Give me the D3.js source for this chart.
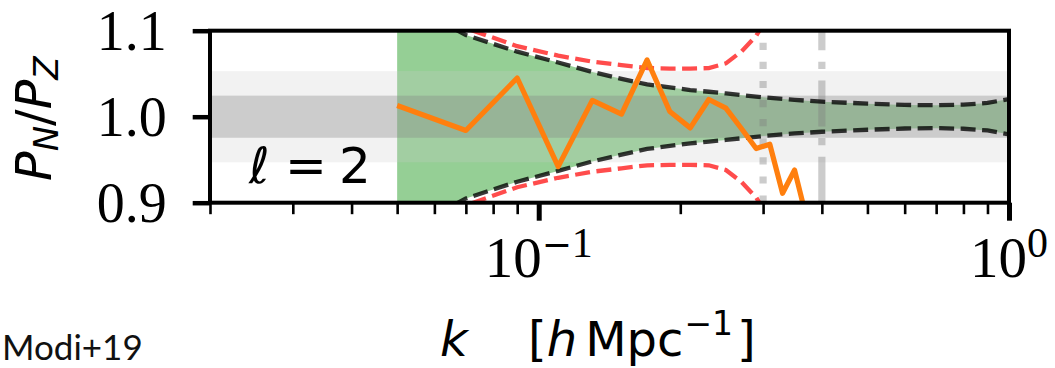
<!DOCTYPE html>
<html>
<head>
<meta charset="utf-8">
<script src="https://cdn.jsdelivr.net/npm/d3@7"></script>
<style>
  html, body { margin: 0; padding: 0; background: #fff; }
  svg { display: block; }
</style>
</head>
<body>
<svg id="chart" width="1055" height="368"></svg>
<script>
// ---------------- data ----------------
const kData = [0.05, 0.07, 0.09, 0.11, 0.13, 0.15, 0.17, 0.19, 0.21, 0.23, 0.25, 0.27, 0.29, 0.31, 0.33, 0.35, 0.37];
const ratio = [1.013, 0.984, 1.045, 0.942, 1.019, 1.003, 1.066, 1.006, 0.987, 1.020, 1.010, 0.986, 0.963, 0.968, 0.911, 0.938, 0.885];

const kModel = [0.05, 0.07, 0.09, 0.11, 0.13, 0.15, 0.17, 0.19, 0.21, 0.23, 0.25, 0.30, 0.35, 0.40, 0.50, 0.60, 0.70, 0.80, 0.90, 1.00];
const sigmaModel = [0.138, 0.095, 0.0756, 0.063, 0.052, 0.044, 0.0375, 0.034, 0.031, 0.029, 0.027, 0.0225, 0.0195, 0.0175, 0.0152, 0.0137, 0.0133, 0.014, 0.016, 0.0205];

const kRed = [0.05, 0.07, 0.09, 0.11, 0.13, 0.15, 0.17, 0.19, 0.21, 0.23, 0.25, 0.27, 0.29, 0.31, 0.33];
const sigmaRed = [0.15, 0.103, 0.082, 0.071, 0.064, 0.060, 0.0565, 0.056, 0.056, 0.0565, 0.062, 0.076, 0.094, 0.12, 0.15];

const bandOuter = [0.947, 1.053];
const bandInner = [0.9755, 1.0245];
const kCuts = [0.3, 0.4];

const yTicks = [0.9, 1.0, 1.1];
const yTickLabels = ["0.9", "1.0", "1.1"];
const xMajor = [0.1, 1];
const xMajorExp = ["\u22121", "0"];
const xMinor = [0.02, 0.03, 0.04, 0.05, 0.06, 0.07, 0.08, 0.09, 0.2, 0.3, 0.4, 0.5, 0.6, 0.7, 0.8, 0.9];

// ---------------- layout ----------------
const L = 210, R = 1009, T = 30.7, B = 202.7;
const svg = d3.select("#chart");
const x = d3.scaleLog().domain([0.02, 1]).range([L, R]);
const y = d3.scaleLinear().domain([0.9, 1.1]).range([B, T]);

svg.append("defs").append("clipPath").attr("id", "clip")
  .append("rect").attr("x", L).attr("y", T).attr("width", R - L).attr("height", B - T);

const plot = svg.append("g").attr("clip-path", "url(#clip)");

const model = kModel.map((k, i) => ({k, s: sigmaModel[i]}));
const red = kRed.map((k, i) => ({k, s: sigmaRed[i]}));
const pts = kData.map((k, i) => ({k, v: ratio[i]}));

// green fill
plot.append("path").datum(model)
  .attr("d", d3.area().x(d => x(d.k)).y0(d => y(1 - d.s)).y1(d => y(1 + d.s)))
  .attr("fill", "#2ca02c").attr("fill-opacity", 0.5);

// gray bands
plot.append("rect").attr("x", L).attr("width", R - L)
  .attr("y", y(bandOuter[1])).attr("height", y(bandOuter[0]) - y(bandOuter[1]))
  .attr("fill", "#cccccc").attr("fill-opacity", 0.25);
plot.append("rect").attr("x", L).attr("width", R - L)
  .attr("y", y(bandInner[1])).attr("height", y(bandInner[0]) - y(bandInner[1]))
  .attr("fill", "#808080").attr("fill-opacity", 0.333);

// vertical cut lines (drawn bottom -> top)
const vStyles = ["7.2,11.9", "46,11.5,7.2,11.5"];
kCuts.forEach((k, i) => {
  plot.append("path")
    .attr("d", `M${x(k)},${y(0.9)}L${x(k)},${y(1.1)}`)
    .attr("stroke", "#808080").attr("stroke-opacity", 0.4)
    .attr("stroke-width", 7.2).attr("stroke-dasharray", vStyles[i]).attr("fill", "none");
});

// black dashed model envelopes
[1, -1].forEach(sgn => {
  plot.append("path").datum(model)
    .attr("d", d3.line().x(d => x(d.k)).y(d => y(1 + sgn * d.s)))
    .attr("fill", "none").attr("stroke", "#000").attr("stroke-opacity", 0.78)
    .attr("stroke-width", 4.3).attr("stroke-dasharray", "15,6.5");
});
// red dashed envelopes
[1, -1].forEach(sgn => {
  plot.append("path").datum(red)
    .attr("d", d3.line().x(d => x(d.k)).y(d => y(1 + sgn * d.s)))
    .attr("fill", "none").attr("stroke", "#ff0000").attr("stroke-opacity", 0.7)
    .attr("stroke-width", 4.3).attr("stroke-dasharray", "15,6.5");
});

// orange ratio line
plot.append("path").datum(pts)
  .attr("d", d3.line().x(d => x(d.k)).y(d => y(d.v)))
  .attr("fill", "none").attr("stroke", "#ff7f0e").attr("stroke-width", 5.2)
  .attr("stroke-linejoin", "round");

// ---------------- axes ----------------
const gxMin = svg.append("g").attr("transform", `translate(0,${B})`)
  .call(d3.axisBottom(x).tickValues(xMinor).tickSize(11.5).tickFormat(""));
gxMin.select(".domain").remove();
gxMin.selectAll(".tick line").attr("stroke", "#000").attr("stroke-width", 2.6);

const gxMaj = svg.append("g").attr("transform", `translate(0,${B})`)
  .call(d3.axisBottom(x).tickValues(xMajor).tickSize(18).tickFormat(""));
gxMaj.select(".domain").remove();
gxMaj.selectAll(".tick line").attr("stroke", "#000").attr("stroke-width", 5);

const gy = svg.append("g").attr("transform", `translate(${L},0)`)
  .call(d3.axisLeft(y).tickValues(yTicks).tickSize(17.3).tickPadding(26)
    .tickFormat((d, i) => yTickLabels[i]));
gy.select(".domain").remove();
gy.selectAll(".tick line").attr("stroke", "#000").attr("stroke-width", 4.5);
gy.selectAll(".tick text")
  .attr("font-family", "'Liberation Serif', serif").attr("font-size", 56)
  .attr("fill", "#000").attr("dy", "0.34em");

// x major labels 10^n
xMajor.forEach((k, i) => {
  const t = svg.append("text").attr("x", x(k)).attr("y", 277)
    .attr("text-anchor", "middle").attr("font-family", "'Liberation Serif', serif")
    .attr("font-size", 57).attr("fill", "#000");
  t.append("tspan").text("10");
  const sup = t.append("tspan").attr("dy", -20).attr("font-size", 42);
  if (xMajorExp[i].startsWith("\u2212")) {
    sup.append("tspan").attr("font-family", "'DejaVu Sans', sans-serif").attr("font-size", 36).text("\u2212");
    sup.append("tspan").text(xMajorExp[i].slice(1));
  } else {
    sup.text(xMajorExp[i]);
  }
});

// spines
svg.append("rect").attr("x", L).attr("y", T).attr("width", R - L).attr("height", B - T)
  .attr("fill", "none").attr("stroke", "#000").attr("stroke-width", 4);

// ---------------- texts ----------------
// y label
const yl = svg.append("text")
  .attr("transform", `translate(51,${(T + B) / 2 + 2}) rotate(-90)`)
  .attr("text-anchor", "middle")
  .attr("font-family", "'DejaVu Sans', sans-serif").attr("font-size", 49).attr("fill", "#000");
yl.append("tspan").attr("font-style", "italic").text("P");
yl.append("tspan").attr("font-style", "italic").attr("font-size", 34).attr("dy", 7).text("N");
yl.append("tspan").attr("dy", -7).text("/");
yl.append("tspan").attr("font-style", "italic").text("P");
yl.append("tspan").attr("font-style", "italic").attr("font-size", 34).attr("dy", 7).text("Z");

// ell = 2
const el = svg.append("text").attr("y", 183)
  .attr("font-family", "'DejaVu Sans', sans-serif").attr("font-size", 50).attr("fill", "#000");
el.append("tspan").attr("x", 249).attr("font-style", "italic").text("\u2113");
el.append("tspan").attr("x", 285).text("=");
el.append("tspan").attr("x", 339).text("2");

// x label
const xl = svg.append("text").attr("y", 356)
  .attr("font-family", "'DejaVu Sans', sans-serif").attr("font-size", 48).attr("fill", "#000");
xl.append("tspan").attr("x", 440).attr("font-style", "italic").text("k");
xl.append("tspan").attr("x", 528).text("[");
xl.append("tspan").attr("font-style", "italic").text("h");
xl.append("tspan").attr("dx", 8).text("Mpc");
xl.append("tspan").attr("dx", 1).attr("dy", -21).attr("font-size", 33).text("\u22121");
xl.append("tspan").attr("dx", 4).attr("dy", 21).text("]");

// source note
svg.append("text").attr("x", 2).attr("y", 360)
  .attr("font-family", "Lato, sans-serif").attr("font-size", 35).attr("fill", "#111")
  .text("Modi+19");
</script>
</body>
</html>
